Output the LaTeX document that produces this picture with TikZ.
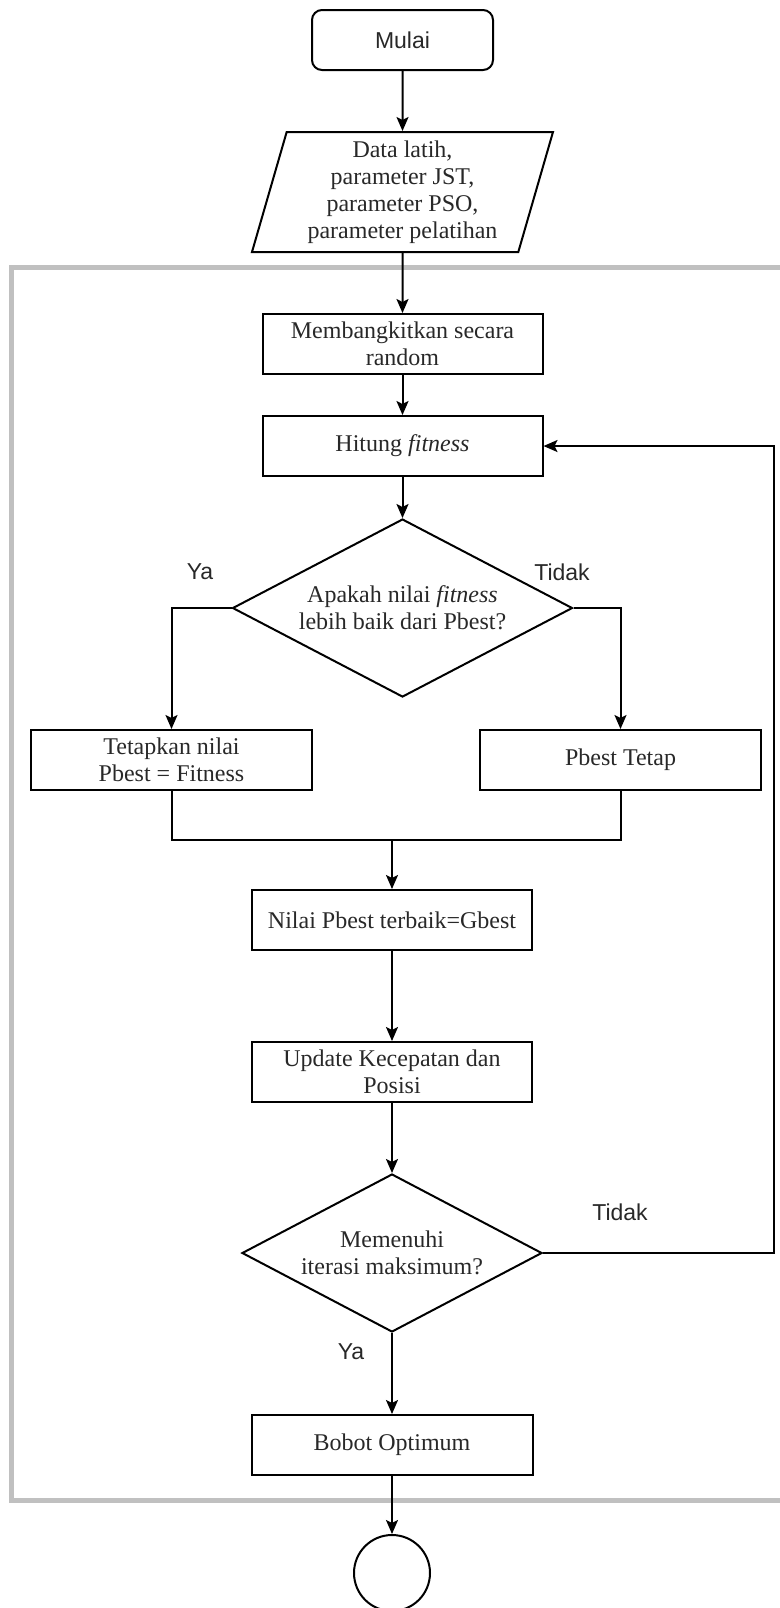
\documentclass[tikz,border=0pt]{standalone}
\usepackage{fontspec}
\setmainfont{Liberation Serif}
\setsansfont{Liberation Sans}
\usepackage{tikz}
\usetikzlibrary{shapes.geometric, arrows.meta, positioning, backgrounds}
\definecolor{framegray}{RGB}{192, 192, 192}
\definecolor{textgray}{RGB}{40, 40, 40}

\begin{document}
\begin{tikzpicture}[
    x=0.5pt, y=-0.5pt,
    every node/.style={font=\fontsize{12}{13.5}\selectfont, text=textgray},
    terminal/.style={
        rectangle,
        draw,
        line width=1pt,
        rounded corners=5pt,
        minimum width=90.5pt,
        minimum height=30pt,
        font=\sffamily\fontsize{11.5}{13}\selectfont
    },
    io/.style={
        trapezium,
        trapezium left angle=72,
        trapezium right angle=108,
        trapezium stretches body,
        draw,
        line width=1pt,
        minimum width=150.5pt,
        minimum height=60pt,
        inner sep=1pt,
        align=center
    },
    process/.style={
        rectangle,
        draw,
        line width=1pt,
        minimum width=140pt,
        minimum height=30pt,
        inner sep=1pt,
        align=center
    },
    decision/.style={
        diamond,
        draw,
        line width=1pt,
        aspect=1.9,
        inner sep=0pt,
        align=center
    },
    connector/.style={
        circle,
        draw,
        line width=1pt,
        minimum size=38pt
    },
    flowlabel/.style={
        font=\sffamily\fontsize{11.5}{13}\selectfont
    },
    arrow/.style={
        line width=1pt,
        -{Stealth[length=7pt, width=6pt, inset=1.5pt]}
    },
    groupbox/.style={
        draw=framegray,
        line width=2.5pt
    }
]
\useasboundingbox (0,0) rectangle (780,1608);

% ==================== INPUT ====================
\node (f_start) [terminal] at (402.5,40) {Mulai};
\node (f_input) [io, below=30pt of f_start] {Data latih,\\ parameter JST,\\ parameter PSO,\\ parameter pelatihan};

% ==================== PSO LOOP ====================
\node (f_init) [process, below=30pt of f_input] {Membangkitkan secara\\ random};
\node (f_fitness) [process, below=20pt of f_init] {Hitung \textit{fitness}};
\node (f_cek) [decision, minimum width=170pt, minimum height=89pt, below=20.5pt of f_fitness] {Apakah nilai \textit{fitness}\\ lebih baik dari Pbest?};
\node (l_ya1) [flowlabel] at (200,572) {Ya};
\node (l_tidak1) [flowlabel] at (562,572) {Tidak};

\node (f_setp) [process, minimum width=140.5pt] at (171.5,760) {Tetapkan nilai\\ Pbest = Fitness};
\node (f_keepp) [process, minimum width=140.5pt] at (620.5,760) {Pbest Tetap};
\coordinate (f_join) at (392,840);

\node (f_gbest) [process] at (392,920) {Nilai Pbest terbaik=Gbest};
\node (f_move) [process, below=45pt of f_gbest] {Update Kecepatan dan\\ Posisi};
\node (f_iter) [decision, minimum width=150pt, minimum height=79pt, below=35pt of f_move] {Memenuhi\\ iterasi maksimum?};
\node (l_tidak2) [flowlabel] at (620,1212) {Tidak};
\node (l_ya2) [flowlabel] at (351,1352) {Ya};
\path (f_fitness.east) ++(230,0) coordinate (f_back);

% ==================== OUTPUT ====================
\node (f_result) [process, minimum width=140.5pt, below=40.5pt of f_iter] {Bobot Optimum};
\node (f_end) [connector, below=29pt of f_result] {};

\draw [arrow] (f_start) -- (f_input);
\draw [arrow] (f_input) -- (f_init);
\draw [arrow] (f_init) -- (f_fitness);
\draw [arrow] (f_fitness) -- (f_cek);
\draw [arrow] (f_cek.west) -| (f_setp.north);
\draw [arrow] (f_cek.east) -| (f_keepp.north);
\draw [line width=1pt] (f_setp.south) |- (f_join) -| (f_keepp.south);
\draw [arrow] (f_join) -- (f_gbest);
\draw [arrow] (f_gbest) -- (f_move);
\draw [arrow] (f_move) -- (f_iter);
\draw [arrow] (f_iter.east) -| (f_back) -- (f_fitness.east);
\draw [arrow] (f_iter) -- (f_result);
\draw [arrow] (f_result) -- (f_end);

% Background grouping box
\begin{scope}[on background layer]
    \draw [groupbox] (11,267) rectangle (790,1500);
\end{scope}

\end{tikzpicture}
\end{document}
